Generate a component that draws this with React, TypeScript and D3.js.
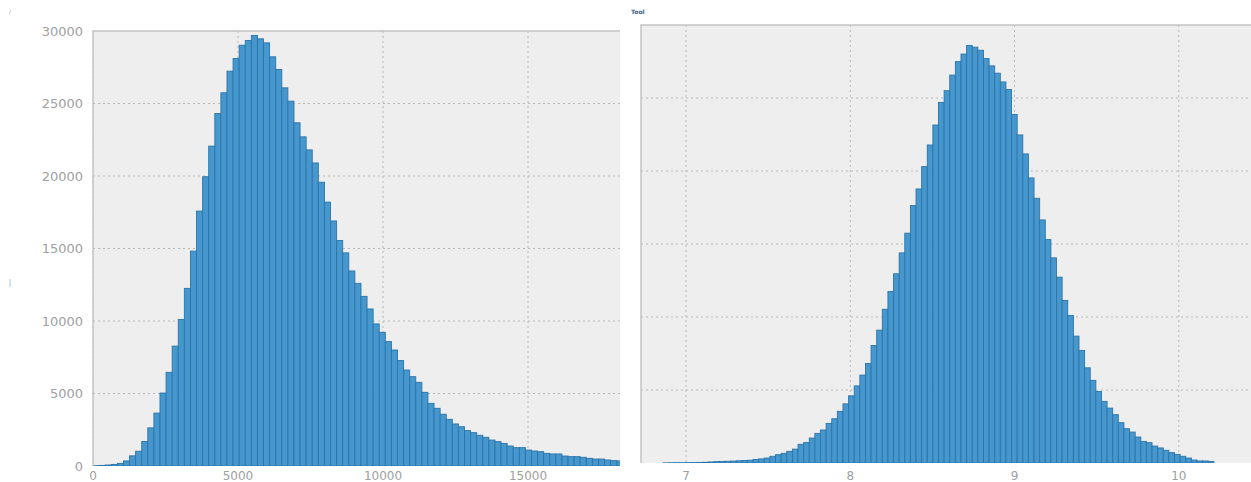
import React, { useEffect, useRef } from "react";
import * as d3 from "d3";

// left histogram: raw values, bins of 210 starting at 0
const leftBinStart = 0;
const leftBinWidth = 210;
const leftCounts = [
  20, 40, 70, 110, 180, 350, 700, 1020, 1690, 2630,
  3650, 5030, 6460, 8270, 10100, 12250, 14820, 17580, 19950, 22060,
  24310, 25740, 27230, 28100, 29020, 29350, 29690, 29460, 29180, 28220,
  27350, 26080, 25160, 23670, 22700, 21800, 20900, 19570, 18200, 16900,
  15550, 14700, 13450, 12600, 11700, 10830, 9800, 9220, 8580, 8000,
  7270, 6620, 6160, 5770, 5080, 4320, 3980, 3570, 3220, 2900,
  2710, 2440, 2300, 2120, 1980, 1790, 1680, 1560, 1380, 1265,
  1265, 1100, 1035, 990, 875, 830, 830, 690, 645, 645,
  600, 530, 480, 480, 415, 370, 350,
];

// right histogram: log values
const rightBinStart = 6.861;
const rightBinWidth = 0.03421;
const rightCounts = [
  10, 15, 20, 20, 25, 30, 40, 50, 70, 90,
  110, 120, 130, 150, 170, 190, 240, 280, 340, 460,
  570, 660, 800, 950, 1280, 1400, 1710, 2030, 2260, 2710,
  3030, 3540, 4050, 4600, 5280, 6020, 6820, 8050, 9100, 10530,
  11750, 12960, 14390, 15740, 17630, 18770, 20300, 21780, 23150, 24700,
  25500, 26570, 27490, 28010, 28600, 28480, 28270, 27700, 27200, 26700,
  26100, 25580, 23870, 22470, 21170, 19525, 18130, 16650, 15300, 14050,
  12730, 11130, 10100, 8690, 7710, 6520, 5660, 4900, 4220, 3760,
  3310, 2760, 2350, 2120, 1780, 1480, 1390, 1160, 1030, 870,
  710, 590, 460, 340, 205, 140, 140, 110,
];

const yTicks = [0, 5000, 10000, 15000, 20000, 25000, 30000];
const leftXTicks = [0, 5000, 10000, 15000];
const rightXTicks = [7, 8, 9, 10];

const W = 1251;
const H = 482;

function drawHist(svg, opts) {
  const { id, x0, x1, y0, y1, xDomain, counts, binStart, binWidth, xTicks, yLabels, labelBase } = opts;
  const x = d3.scaleLinear().domain(xDomain).range([x0, x1]);
  const y = d3.scaleLinear().domain([0, 30000]).range([y1, y0]);

  svg
    .append("clipPath")
    .attr("id", id)
    .append("rect")
    .attr("x", x0)
    .attr("y", y0)
    .attr("width", x1 - x0)
    .attr("height", y1 - y0);

  svg
    .append("rect")
    .attr("x", x0)
    .attr("y", y0)
    .attr("width", x1 - x0)
    .attr("height", y1 - y0)
    .attr("fill", "#eeeeee");

  const g = svg.append("g").attr("clip-path", `url(#${id})`);

  // grid
  g.selectAll(".hg")
    .data(yTicks.slice(1, -1))
    .enter()
    .append("line")
    .attr("x1", x0)
    .attr("x2", x1)
    .attr("y1", (d) => y(d))
    .attr("y2", (d) => y(d))
    .attr("stroke", "#b8b8b8")
    .attr("stroke-width", 1)
    .attr("stroke-dasharray", "2,3");
  g.selectAll(".vg")
    .data(xTicks)
    .enter()
    .append("line")
    .attr("x1", (d) => x(d))
    .attr("x2", (d) => x(d))
    .attr("y1", y0)
    .attr("y2", y1)
    .attr("stroke", "#b8b8b8")
    .attr("stroke-width", 1)
    .attr("stroke-dasharray", "2,3");

  const bw = x(binStart + binWidth) - x(binStart);
  g.selectAll(".bar")
    .data(counts)
    .enter()
    .append("rect")
    .attr("x", (d, i) => x(binStart + i * binWidth))
    .attr("y", (d) => y(d))
    .attr("width", bw)
    .attr("height", (d) => y1 - y(d))
    .attr("fill", "#4597cd")
    .attr("stroke", "#2c74aa")
    .attr("stroke-width", 0.9);

  // frame (top + left)
  svg
    .append("path")
    .attr("d", `M${x0},${y1}V${y0}H${x1}`)
    .attr("fill", "none")
    .attr("stroke", "#c4c4c4")
    .attr("stroke-width", 1.5);

  if (yLabels) {
    svg
      .selectAll(`.yl-${id}`)
      .data(yTicks)
      .enter()
      .append("text")
      .attr("x", x0 - 10)
      .attr("y", (d) => y(d))
      .attr("dy", "0.36em")
      .attr("text-anchor", "end")
      .attr("font-family", "DejaVu Sans, sans-serif")
      .attr("font-size", 13)
      .attr("fill", "#a0a0a0")
      .text((d) => d);
  }

  svg
    .selectAll(`.xl-${id}`)
    .data(xTicks)
    .enter()
    .append("text")
    .attr("x", (d) => x(d))
    .attr("y", labelBase)
    .attr("text-anchor", "middle")
    .attr("font-family", "DejaVu Sans, sans-serif")
    .attr("font-size", 12)
    .attr("fill", "#a0a0a0")
    .text((d) => d);
}

export default function App() {
  const ref = useRef(null);
  useEffect(() => {
    const svg = d3.select(ref.current);
    svg.selectAll("*").remove();
    svg.append("rect").attr("width", W).attr("height", H).attr("fill", "#ffffff");

    drawHist(svg, {
      id: "clipL",
      x0: 93,
      x1: 620,
      y0: 31,
      y1: 466,
      xDomain: [0, 18172],
      counts: leftCounts,
      binStart: leftBinStart,
      binWidth: leftBinWidth,
      xTicks: leftXTicks,
      yLabels: true,
      labelBase: 480,
    });

    drawHist(svg, {
      id: "clipR",
      x0: 641,
      x1: 1251,
      y0: 25,
      y1: 463,
      xDomain: [6.7261, 10.4397],
      counts: rightCounts,
      binStart: rightBinStart,
      binWidth: rightBinWidth,
      xTicks: rightXTicks,
      yLabels: false,
      labelBase: 480,
    });

    // small stray marks visible in the screenshot
    svg.append("text").attr("x", 9).attr("y", 14).attr("font-size", 7).attr("fill", "#666").text("/");
    svg.append("text").attr("x", 9).attr("y", 285).attr("font-size", 9).attr("fill", "#4a7fb5").text("|");
    svg
      .append("text")
      .attr("x", 631)
      .attr("y", 14)
      .attr("font-family", "DejaVu Sans, sans-serif")
      .attr("font-size", 6)
      .attr("font-weight", "bold")
      .attr("fill", "#3d5f85")
      .text("Tool");
  }, []);

  return (
    <div>
      <svg ref={ref} width={W} height={H} style={{ position: "absolute", left: 0, top: 0 }}></svg>
    </div>
  );
}
